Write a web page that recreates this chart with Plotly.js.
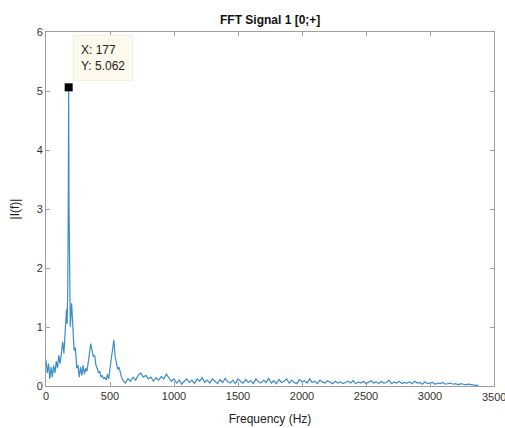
<!DOCTYPE html>
<html><head><meta charset="utf-8">
<script src="https://cdn.plot.ly/plotly-3.0.1.min.js"></script>
<style>html,body{margin:0;padding:0;background:#fff}#chart{width:505px;height:428px}</style>
</head><body><div id="chart"></div>
<script>
// Low-frequency part (Hz) and magnitudes
var freqLow = [0,10,20,30,40,50,60,70,80,90,100,110,120,130,140,150,160,165,170,174,177,180,184,190,200,210,220,230,240,250,260,270,280,290,300,310,320,330,340,350,360,370,380,390,400,410,420,430,440,450,460,470,480,490,500,510,520,530,540,550,560,570,580,590,600,620,640,660,680,700,720,740,760,780,800];
var magLow = [0.45,0.22,0.38,0.12,0.32,0.15,0.35,0.22,0.42,0.30,0.52,0.38,0.55,0.75,0.55,0.95,1.30,1.05,1.60,3.10,5.062,3.00,1.20,1.00,1.40,0.90,0.60,0.65,0.30,0.35,0.15,0.32,0.18,0.35,0.20,0.30,0.25,0.40,0.55,0.72,0.60,0.50,0.52,0.35,0.30,0.22,0.25,0.15,0.18,0.12,0.15,0.10,0.20,0.12,0.30,0.45,0.65,0.78,0.50,0.35,0.28,0.32,0.20,0.15,0.10,0.05,0.12,0.08,0.15,0.10,0.18,0.22,0.15,0.18,0.12];
// High-frequency part
var freqHigh = [820,840,860,880,900,920,940,960,980,1000,1020,1040,1060,1080,1100,1120,1140,1160,1180,1200,1220,1240,1260,1280,1300,1320,1340,1360,1380,1400,1420,1440,1460,1480,1500,1520,1540,1560,1580,1600,1620,1640,1660,1680,1700,1720,1740,1760,1780,1800,1820,1840,1860,1880,1900,1920,1940,1960,1980,2000,2020,2040,2060,2080,2100,2120,2140,2160,2180,2200,2220,2240,2260,2280,2300,2320,2340,2360,2380,2400,2420,2440,2460,2480,2500,2520,2540,2560,2580,2600,2620,2640,2660,2680,2700,2720,2740,2760,2780,2800,2820,2840,2860,2880,2900,2920,2940,2960,2980,3000,3020,3040,3060,3080,3100,3120,3140,3160,3180,3200,3220,3240,3260,3280,3300,3320,3340,3360,3380];
var magHigh = [0.15,0.08,0.14,0.10,0.16,0.12,0.20,0.14,0.08,0.12,0.05,0.10,0.03,0.08,0.12,0.06,0.10,0.04,0.12,0.08,0.14,0.06,0.10,0.05,0.12,0.08,0.04,0.11,0.06,0.13,0.07,0.05,0.10,0.04,0.12,0.08,0.05,0.11,0.06,0.09,0.04,0.12,0.07,0.05,0.10,0.06,0.13,0.05,0.09,0.04,0.11,0.06,0.08,0.12,0.05,0.10,0.06,0.04,0.11,0.07,0.09,0.05,0.12,0.06,0.08,0.04,0.10,0.07,0.05,0.09,0.06,0.04,0.08,0.05,0.07,0.04,0.06,0.08,0.05,0.09,0.04,0.07,0.05,0.08,0.04,0.06,0.09,0.05,0.07,0.04,0.08,0.05,0.06,0.10,0.04,0.07,0.05,0.08,0.04,0.06,0.05,0.07,0.04,0.08,0.05,0.06,0.03,0.07,0.04,0.05,0.06,0.03,0.05,0.04,0.06,0.03,0.04,0.05,0.03,0.04,0.02,0.04,0.03,0.02,0.03,0.02,0.02,0.01,0.01];
var peakX = [177];
var peakY = [5.062];
var xTicks = [0,500,1000,1500,2000,2500,3000,3500];
var yTicks = [0,1,2,3,4,5,6];

var freq = freqLow.concat(freqHigh);
var mag = magLow.concat(magHigh);

var FONT = 'Liberation Sans, Arial, sans-serif';
var axisCommon = {
  showgrid:false, zeroline:false, showline:true, mirror:'ticks',
  linecolor:'#a0a0a0', linewidth:1, ticks:'inside', ticklen:4, tickcolor:'#a0a0a0',
  ticklabeloverflow:'allow',
  tickfont:{family:FONT, size:11, color:'#333'}
};

// Last x tick label sits at the page edge; Plotly hides it, so it is drawn as an annotation.
var lastX = xTicks[xTicks.length - 1];
var xTickText = xTicks.map(function(v){ return v === lastX ? '' : String(v); });

var data = [
  {x:freq, y:mag, type:'scatter', mode:'lines', line:{color:'#3b8dc9', width:1.2}, hoverinfo:'skip'},
  {x:peakX, y:peakY, type:'scatter', mode:'markers', marker:{symbol:'square', color:'#000', size:8}, hoverinfo:'skip'}
];

var layout = {
  width:505, height:428,
  margin:{l:46, r:11, t:32, b:42},
  paper_bgcolor:'#fff', plot_bgcolor:'#fff',
  showlegend:false,
  title:{text:'<b>FFT Signal 1 [0;+]</b>', x:0.535, xanchor:'center', y:0.953, yanchor:'middle',
    font:{family:FONT, size:12, color:'#111'}},
  xaxis:Object.assign({}, axisCommon, {range:[0,3500], tickvals:xTicks, ticktext:xTickText,
    title:{text:'Frequency (Hz)', standoff:13, font:{family:FONT, size:12, color:'#222'}}}),
  yaxis:Object.assign({}, axisCommon, {range:[0,6], tickvals:yTicks,
    title:{text:'|I(f)|', standoff:14, font:{family:FONT, size:12, color:'#222'}}}),
  annotations:[{
    x:peakX[0], y:peakY[0], xref:'x', yref:'y',
    text:'X: 177<br>Y: 5.062', showarrow:false, align:'left',
    xanchor:'left', yanchor:'bottom', xshift:4, yshift:6,
    bgcolor:'#fdf9ec', bordercolor:'#f5efdd', borderwidth:1, borderpad:7,
    font:{family:FONT, size:12, color:'#222'}
  },{
    x:lastX, y:0, xref:'x', yref:'paper',
    text:String(lastX), showarrow:false, xanchor:'center', yanchor:'top', yshift:-3,
    font:{family:FONT, size:11, color:'#333'}
  }]
};

Plotly.newPlot('chart', data, layout, {displayModeBar:false, staticPlot:true});
</script>
</body></html>
